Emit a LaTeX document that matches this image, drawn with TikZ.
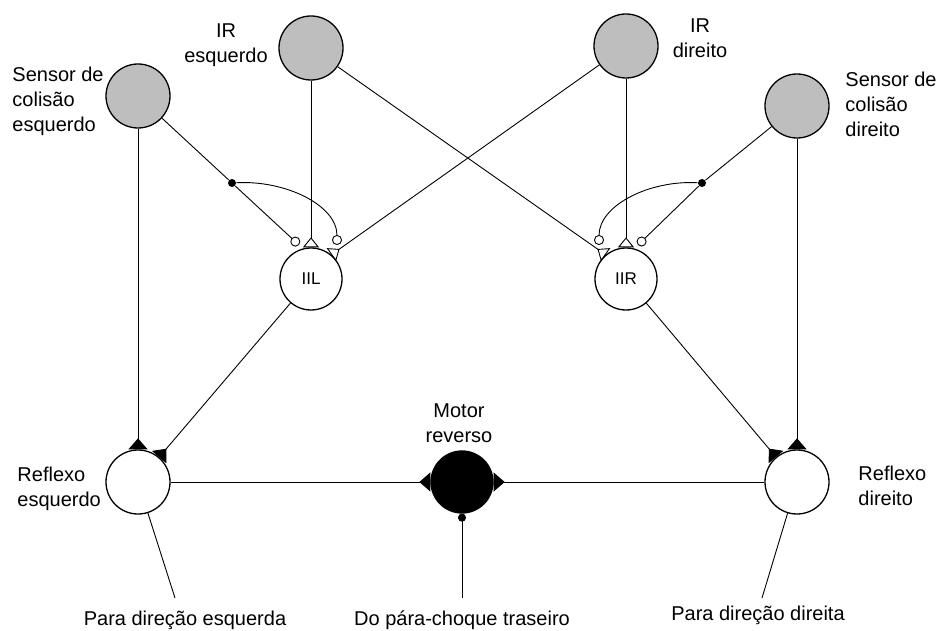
\documentclass[tikz,border=0pt]{standalone}
\usepackage{fontspec}
\setmainfont{Liberation Sans}
\usetikzlibrary{arrows.meta}
\definecolor{sensorgray}{RGB}{190,190,190}

\begin{document}
\begin{tikzpicture}[x=1pt,y=-1pt,line width=0.9pt,
	neuron/.style={circle,draw,line width=1.3pt,minimum size=62pt,inner sep=0pt},
	sensor/.style={neuron,fill=sensorgray,minimum size=64pt},
	junction/.style={circle,fill,minimum size=8pt,inner sep=0pt},
	txt/.style={inner sep=0pt,font=\fontsize{20}{25}\selectfont},
	exc/.style={-{Triangle[reversed,length=11pt,width=19pt]}},
	excopen/.style={-{Triangle[open,reversed,length=10pt,width=16pt]}},
	inh/.style={-{Circle[open,length=10pt]}}]
	\useasboundingbox (0,0) rectangle (943,631);
	\node[sensor] (sL) at (138,96) {};
	\node[sensor] (irL) at (311,48) {};
	\node[sensor] (irR) at (626,46) {};
	\node[sensor] (sR) at (797,106) {};
	\node[neuron,font=\fontsize{17}{17}\selectfont] (iil) at (311,279) {IIL};
	\node[neuron,font=\fontsize{17}{17}\selectfont] (iir) at (626,279) {IIR};
	\node[neuron,minimum size=64pt] (rL) at (138,482) {};
	\node[neuron,fill=black] (mot) at (462,482) {};
	\node[neuron,minimum size=64pt] (rR) at (797,482) {};
	\node[junction] (jL) at (232,183) {};
	\node[junction] (jR) at (702,183) {};
	\coordinate (iilA) at (299,245);
	\coordinate (iilB) at (337,245);
	\coordinate (iirA) at (638,245);
	\coordinate (iirB) at (599,245);
	\coordinate (endL) at (175,598);
	\coordinate (endM) at (462,598);
	\coordinate (endR) at (762,598);
	\draw (sL) -- (jL);
	\draw[inh] (jL) -- (iilA);
	\draw[inh] (jL) .. controls (285,180) and (337,205) .. (iilB);
	\draw[excopen] (irL) -- (iil);
	\draw[excopen] (irR) -- (iil.50);
	\draw[excopen] (irL) -- (iir.130);
	\draw[excopen] (irR) -- (iir);
	\draw (sR) -- (jR);
	\draw[inh] (jR) -- (iirA);
	\draw[inh] (jR) .. controls (650,180) and (599,205) .. (iirB);
	\draw[exc] (sL) -- (rL);
	\draw[exc] (iil) -- (rL);
	\draw[exc] (sR) -- (rR);
	\draw[exc] (iir) -- (rR);
	\draw[exc] (rL) -- (mot);
	\draw[exc] (rR) -- (mot);
	\draw[-{Circle[length=8pt]}] (endM) -- (mot);
	\draw (rL) -- (endL);
	\draw (rR) -- (endR);
	\node[txt,anchor=north west,align=left] (sLtxt) at (12,67) {Sensor de\\colisão\\esquerdo};
	\node[txt,anchor=north,align=center] (irLtxt) at (226,23) {IR\\esquerdo};
	\node[txt,anchor=north,align=center] (irRtxt) at (700,18) {IR\\direito};
	\node[txt,anchor=north west,align=left] (sRtxt) at (845,72) {Sensor de\\colisão\\direito};
	\node[txt,anchor=north,align=center] (motTxt) at (459,403) {Motor\\reverso};
	\node[txt,anchor=north west,align=left] (rLtxt) at (17,467) {Reflexo\\esquerdo};
	\node[txt,anchor=north west,align=left] (rRtxt) at (858,466) {Reflexo\\direito};
	\node[txt,anchor=base] (dirL) at (185,625) {Para direção esquerda};
	\node[txt,anchor=base] (bumpT) at (462,625) {Do pára-choque traseiro};
	\node[txt,anchor=base] (dirR) at (758,620) {Para direção direita};
\end{tikzpicture}
\end{document}
